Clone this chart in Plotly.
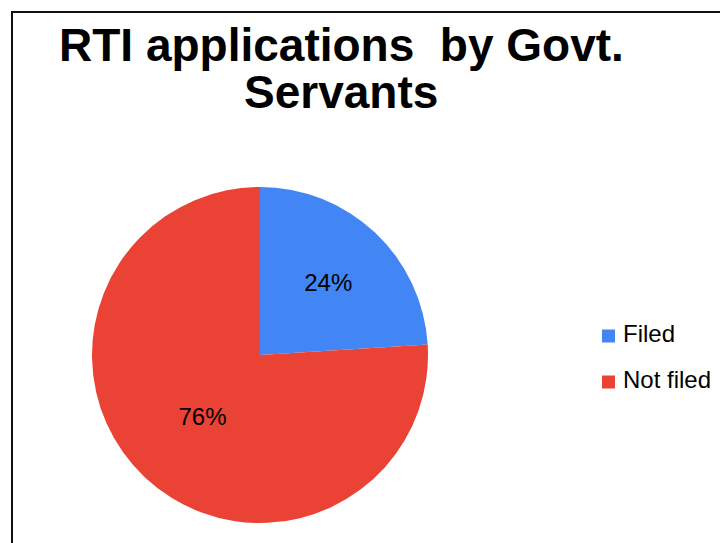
import plotly.graph_objects as go

labels = ["Filed", "Not filed"]
values = [24, 76]
colors = ["#4285F4", "#EA4335"]
title_lines = ["RTI applications  by Govt.", "Servants"]

W, H = 720, 543
FONT = "Liberation Sans, Arial, sans-serif"

fig = go.Figure()
fig.add_trace(go.Pie(
    labels=labels,
    values=values,
    marker=dict(colors=colors, line=dict(width=0)),
    sort=False,
    direction="clockwise",
    rotation=0,
    textinfo="percent",
    texttemplate="%{percent:.0%}",
    textposition="inside",
    insidetextorientation="horizontal",
    textfont=dict(family=FONT, size=24, color="black"),
    domain=dict(x=[(260 - 168) / W, (260 + 168) / W], y=[1 - 523 / H, 1 - 187 / H]),
    showlegend=False,
    hoverinfo="label+percent",
))

annotations = []
# title lines
for i, (line, ypix) in enumerate(zip(title_lines, [45, 92])):
    annotations.append(dict(
        text="<b>%s</b>" % line, x=341 / W, y=1 - ypix / H, xref="paper", yref="paper",
        xanchor="center", yanchor="middle", showarrow=False,
        font=dict(family=FONT, size=46, color="black"),
    ))

shapes = []
# custom legend
for i, (lab, col) in enumerate(zip(labels, colors)):
    yc = 336 + 46 * i
    shapes.append(dict(type="rect", xref="paper", yref="paper",
                       x0=602 / W, x1=615 / W, y0=1 - (yc + 6.5) / H, y1=1 - (yc - 6.5) / H,
                       fillcolor=col, line=dict(width=0)))
    annotations.append(dict(
        text=lab, x=621 / W, y=1 - (yc - 2.5) / H, xref="paper", yref="paper",
        xanchor="left", yanchor="middle", showarrow=False,
        font=dict(family=FONT, size=24, color="black"),
    ))

# chart border
shapes.append(dict(type="rect", xref="paper", yref="paper",
                   x0=12 / W, x1=1.05, y0=-0.05, y1=1 - 12 / H,
                   line=dict(color="#111111", width=2), fillcolor="rgba(0,0,0,0)"))

fig.update_layout(
    width=W, height=H,
    margin=dict(l=0, r=0, t=0, b=0),
    paper_bgcolor="white", plot_bgcolor="white",
    annotations=annotations, shapes=shapes,
    showlegend=False,
)

fig.write_html("out.html")
